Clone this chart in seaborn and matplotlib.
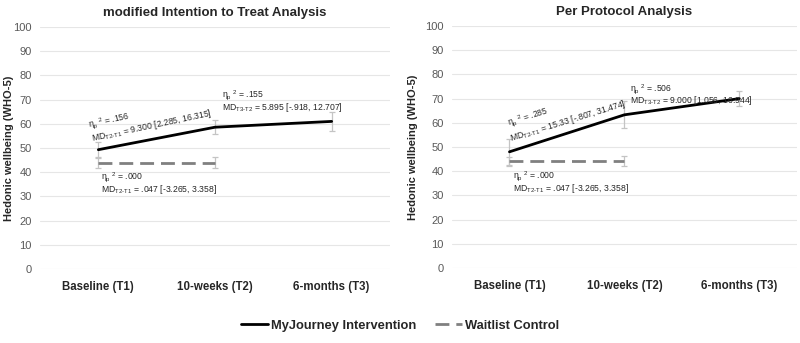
import seaborn as sns
import matplotlib.pyplot as plt
import pandas as pd
import numpy as np

# time points
timepoints = ['Baseline (T1)', '10-weeks (T2)', '6-months (T3)']

# modified intention to treat
mitt_int = [49.3, 58.6, 61.0]
mitt_int_lo = [46.0, 55.6, 57.2]
mitt_int_hi = [52.5, 61.6, 65.0]
mitt_wl = [44.0, 44.0]
mitt_wl_lo = [41.6, 41.8]
mitt_wl_hi = [46.4, 46.2]

# per protocol
pp_int = [48.0, 63.3, 70.0]
pp_int_lo = [42.5, 58.0, 67.0]
pp_int_hi = [53.5, 69.0, 73.0]
pp_wl = [44.0, 44.0]
pp_wl_lo = [42.0, 42.0]
pp_wl_hi = [46.0, 46.2]

titles = ['modified Intention to Treat Analysis', 'Per Protocol Analysis']

eta = r'$\eta_p$$^{\ 2}$'
mitt_notes = [
    (eta + ' = .156', 'MD$_{\\mathrm{T2\\text{-}T1}}$ = 9.300 [2.285, 16.315]', 12),
    (eta + ' = .155', 'MD$_{\\mathrm{T3\\text{-}T2}}$ = 5.895 [-.918, 12.707]', 0),
    (eta + ' = .000', 'MD$_{\\mathrm{T2\\text{-}T1}}$ = .047 [-3.265, 3.358]', 0),
]
pp_notes = [
    (eta + ' = .285', 'MD$_{\\mathrm{T2\\text{-}T1}}$ = 15.33 [-.807, 31.474]', 17),
    (eta + ' = .506', 'MD$_{\\mathrm{T3\\text{-}T2}}$ = 9.000 [1.056, 16.944]', 0),
    (eta + ' = .000', 'MD$_{\\mathrm{T2\\text{-}T1}}$ = .047 [-3.265, 3.358]', 0),
]

sns.set_theme(style='white')
plt.rcParams['font.family'] = ['Liberation Sans', 'DejaVu Sans']
plt.rcParams['mathtext.fontset'] = 'custom'
plt.rcParams['mathtext.rm'] = 'Liberation Sans'
plt.rcParams['mathtext.it'] = 'Liberation Sans'

fig = plt.figure(figsize=(8, 3.43), dpi=100)
ax1 = fig.add_axes([0.05, 0.216, 0.4375, 0.705])
ax2 = fig.add_axes([0.565, 0.219, 0.431, 0.705])


def draw(ax, title, y_int, lo_int, hi_int, y_wl, lo_wl, hi_wl, notes, note_pos, label_x):
    df = pd.DataFrame({
        'x': list(range(3)) + list(range(2)),
        'y': y_int + y_wl,
        'group': ['MyJourney Intervention'] * 3 + ['Waitlist Control'] * 2,
    })
    x_int = np.arange(3)
    x_wl = np.arange(2)
    ax.errorbar(x_int, y_int, yerr=[np.array(y_int) - lo_int, np.array(hi_int) - y_int],
                fmt='none', ecolor='#c4c4c4', elinewidth=0.9, capsize=2.5, capthick=0.9)
    ax.errorbar(x_wl, y_wl, yerr=[np.array(y_wl) - lo_wl, np.array(hi_wl) - y_wl],
                fmt='none', ecolor='#c4c4c4', elinewidth=0.9, capsize=2.5, capthick=0.9)
    sns.lineplot(data=df[df.group == 'MyJourney Intervention'], x='x', y='y', ax=ax,
                 color='black', linewidth=2, label='MyJourney Intervention')
    sns.lineplot(data=df[df.group == 'Waitlist Control'], x='x', y='y', ax=ax,
                 color='#808080', linewidth=2, dashes=(5, 2.5), label='Waitlist Control')
    ax.set_xlim(-0.5, 2.5)
    ax.set_ylim(0, 100)
    ax.set_yticks(range(0, 101, 10))
    ax.set_xticks(range(3))
    ax.set_xticklabels(timepoints, fontweight='bold', fontsize=8.3, color='#262626')
    ax.tick_params(axis='y', labelsize=8, colors='#595959', length=0, pad=6)
    ax.tick_params(axis='x', length=0, pad=9)
    ax.yaxis.grid(True, color='#e6e6e6', linewidth=0.8)
    for s in ax.spines.values():
        s.set_visible(False)
    ax.set_xlabel('')
    ax.set_ylabel('Hedonic wellbeing (WHO-5)', fontweight='bold', fontsize=8)
    ax.yaxis.set_label_coords(label_x, 0.5)
    ax.set_title(title, fontweight='bold', fontsize=9.5, pad=8)
    ax.get_legend().remove()
    for (eta_txt, md_txt, rot), (xa, ya, xb, yb) in zip(notes, note_pos):
        ax.text(xa, ya, eta_txt, fontsize=6.2, color='#262626', rotation=rot,
                rotation_mode='anchor', ha='left', va='baseline')
        ax.text(xb, yb, md_txt, fontsize=6.2, color='#262626', rotation=rot,
                rotation_mode='anchor', ha='left', va='baseline')


draw(ax1, titles[0], mitt_int, mitt_int_lo, mitt_int_hi, mitt_wl, mitt_wl_lo, mitt_wl_hi,
     mitt_notes, [(-0.08, 58.3, -0.05, 52.8), (1.06, 70.8, 1.06, 65.8), (0.02, 37.0, 0.02, 32.0)],
     -0.074)
draw(ax2, titles[1], pp_int, pp_int_lo, pp_int_hi, pp_wl, pp_wl_lo, pp_wl_hi,
     pp_notes, [(-0.01, 58.8, 0.01, 52.3), (1.05, 73.0, 1.05, 68.0), (0.03, 37.0, 0.03, 32.0)],
     -0.099)

handles, labels = ax1.get_legend_handles_labels()
fig.legend(handles[-2:], labels[-2:], loc='center', ncol=2, frameon=False,
           prop={'weight': 'bold', 'size': 9.3}, bbox_to_anchor=(0.5, 0.05),
           handlelength=2.1, columnspacing=1.5, handletextpad=0.2)

fig.savefig('out.png', dpi=100)
